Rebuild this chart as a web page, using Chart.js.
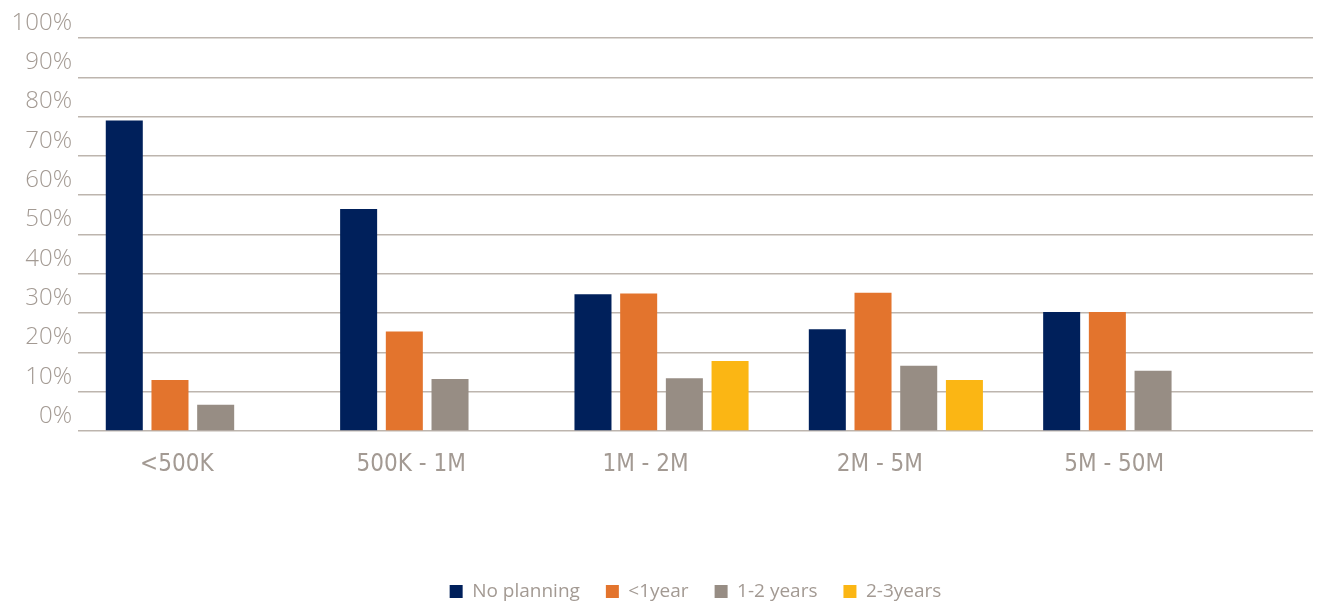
<!DOCTYPE html>
<html>
<head>
<meta charset="utf-8">
<script src="https://cdn.jsdelivr.net/npm/chart.js@4"></script>
<style>
  html, body { margin: 0; padding: 0; background: #fff; }
  #wrap { width: 1321px; height: 603px; }
</style>
</head>
<body>
<div id="wrap"><canvas id="myChart"></canvas></div>
<script>
// data
var categories = ['<500K', '500K - 1M', '1M - 2M', '2M - 5M', '5M - 50M'];
var noPlanning = [79, 56.5, 34.8, 25.9, 30.3];
var underOneYear = [13, 25.3, 35, 35.2, 30.3];
var oneToTwo = [6.7, 13.2, 13.4, 16.6, 15.3];
var twoToThree = [null, null, 17.8, 13, null];
var yTicks = [0, 10, 20, 30, 40, 50, 60, 70, 80, 90, 100];

var gray = '#a39a93';

function toPoints(values) {
    return values.map(function (v, i) { return { x: i, y: v }; });
}

document.addEventListener('DOMContentLoaded', function () {
    var ctx = document.getElementById('myChart').getContext('2d');
    var myChart = new Chart(ctx, {
        type: 'bar',
        data: {
            datasets: [{
                label: 'No planning',
                data: toPoints(noPlanning),
                backgroundColor: '#00205b'
            }, {
                label: '<1year',
                data: toPoints(underOneYear),
                backgroundColor: '#e3742d'
            }, {
                label: '1-2 years',
                data: toPoints(oneToTwo),
                backgroundColor: '#978d84'
            }, {
                label: '2-3years',
                data: toPoints(twoToThree),
                backgroundColor: '#fbb614'
            }]
        },
        options: {
            responsive: true,
            maintainAspectRatio: false,
            animation: false,
            categoryPercentage: 0.78,
            barPercentage: 0.81,
            layout: { padding: { top: 38, right: 8, left: 0, bottom: -8 } },
            plugins: {
                tooltip: { enabled: false },
                legend: {
                    position: 'bottom',
                    fullSize: false,
                    labels: {
                        boxWidth: 13,
                        boxHeight: 13,
                        padding: 26,
                        color: gray,
                        font: { family: 'Open Sans', size: 19 }
                    }
                }
            },
            scales: {
                x: {
                    type: 'linear',
                    offset: false,
                    min: -0.49,
                    max: 4.78,
                    grid: { display: false },
                    border: { display: false },
                    afterBuildTicks: function (axis) {
                        axis.ticks = categories.map(function (c, i) { return { value: i }; });
                    },
                    afterFit: function (axis) { axis.height = 125; },
                    ticks: {
                        autoSkip: false,
                        maxRotation: 0,
                        padding: 11,
                        labelOffset: -16,
                        color: gray,
                        font: { family: "'DejaVu Sans Condensed', 'Liberation Sans', sans-serif", size: 24 },
                        callback: function (value) { return categories[value]; }
                    }
                },
                y: {
                    min: 0,
                    max: 100,
                    afterBuildTicks: function (axis) {
                        axis.ticks = yTicks.map(function (v) { return { value: v }; });
                    },
                    afterFit: function (axis) { axis.width = 78; },
                    grid: { color: '#bdb5ae', lineWidth: 1.5, drawTicks: false },
                    border: { display: false },
                    ticks: {
                        padding: 6,
                        labelOffset: -15,
                        color: gray,
                        font: { family: 'Open Sans', size: 24, weight: '300' },
                        callback: function (value) { return value + '%'; }
                    }
                }
            }
        }
    });
});
</script>
</body>
</html>
